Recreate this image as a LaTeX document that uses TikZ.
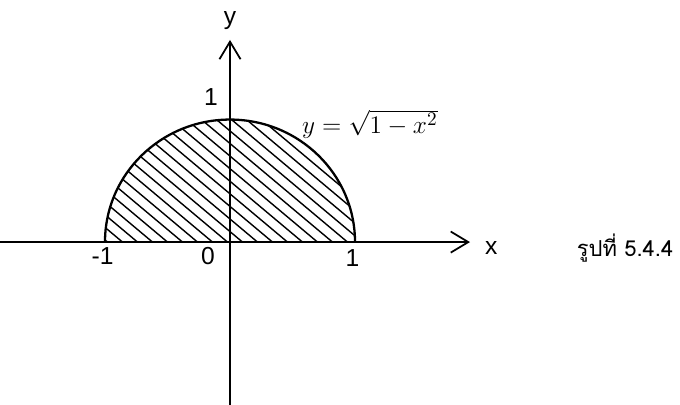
\documentclass[tikz,border=0pt]{standalone}
\usepackage{fontspec}
\setmainfont{Liberation Sans}
\newfontfamily\thaifont[Script=Thai]{Loma}
\usetikzlibrary{arrows.meta}

\begin{document}
\begin{tikzpicture}[x=2.5cm,y=2.45cm,>={Straight Barb[length=10pt,width=12pt]},
  axis/.style={line width=1pt},
  curve/.style={line width=1.3pt},
  hatch/.style={line width=0.8pt},
  lbl/.style={font=\fontsize{14}{16}\selectfont,inner sep=0pt}]
\useasboundingbox (-1.84,-1.33) rectangle (3.6,1.976);
% shaded half disc
\begin{scope}
  \clip (1,0) arc[start angle=0,end angle=180,x radius=1,y radius=1] -- cycle;
  \foreach \c in {-1.22,-1.10,...,2.0}
    \draw[hatch] (\c-1.5,1.284) -- (\c+1.5,-1.284);
\end{scope}
\draw[curve] (1,0) arc[start angle=0,end angle=180,x radius=1,y radius=1];
% axes
\coordinate (xl) at (-1.84,0);
\coordinate (xr) at (1.92,0);
\coordinate (yb) at (0,-1.33);
\coordinate (yt) at (0,1.65);
\draw[axis,->] (xl) -- (xr);
\draw[axis,->] (yb) -- (yt);
\node[lbl] (ylab) at (0,1.81) {y};
\node[lbl] (xlab) at (2.09,-0.05) {x};
\node[lbl] (one) at (-0.152,1.18) {1};
\node[lbl] (mone) at (-1.02,-0.115) {-1};
\node[lbl] (zero) at (-0.176,-0.11) {0};
\node[lbl] (pone) at (0.98,-0.13) {1};
\node[lbl,font=\fontsize{15}{17}\selectfont,anchor=base west] (eq) at (0.575,0.89) {$y=\sqrt{1-x^2}$};
\node[font=\thaifont\fontsize{12.5}{14}\selectfont,inner sep=0pt] (cap) at (3.16,-0.05) {รูปที่ 5.4.4};
\end{tikzpicture}
\end{document}
